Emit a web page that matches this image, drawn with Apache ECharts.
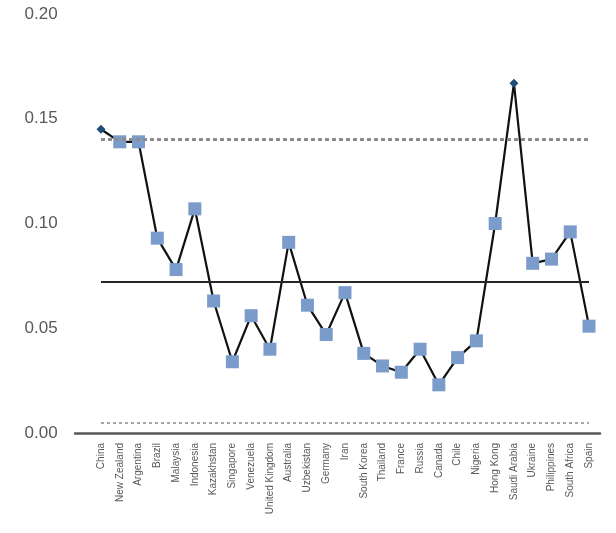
<!DOCTYPE html>
<html>
<head>
<meta charset="utf-8">
<script src="https://cdn.jsdelivr.net/npm/echarts@6/dist/echarts.min.js"></script>
<style>
html,body{margin:0;padding:0;background:#fff;}
#chart{width:616px;height:533px;}
</style>
</head>
<body>
<div id="chart"></div>
<script>
const categories = ["China","New Zealand","Argentina","Brazil","Malaysia","Indonesia","Kazakhstan","Singapore","Venezuela","United Kingdom","Australia","Uzbekistan","Germany","Iran","South Korea","Thailand","France","Russia","Canada","Chile","Nigeria","Hong Kong","Saudi Arabia","Ukraine","Philippines","South Africa","Spain"];
const values = [0.145,0.139,0.139,0.093,0.078,0.107,0.063,0.034,0.056,0.040,0.091,0.061,0.047,0.067,0.038,0.032,0.029,0.040,0.023,0.036,0.044,0.100,0.167,0.081,0.083,0.096,0.051];
const highlighted = [0, 22];
const meanValue = 0.072;
const upperLimit = 0.140;
const lowerLimit = 0.005;
const yTicks = [0, 0.05, 0.10, 0.15, 0.20];

const chart = echarts.init(document.getElementById('chart'));
const first = categories[0], last = categories[categories.length - 1];
const seriesData = values.map((v, i) => highlighted.includes(i)
  ? { value: v, symbol: 'diamond', symbolSize: 9, itemStyle: { color: '#1f4e79' } }
  : v);

chart.setOption({
  animation: false,
  grid: [
    { left: 91.6, right: 17.6, top: 14, bottom: 100 },
    { left: 75, right: 16, top: 14, bottom: 100 }
  ],
  xAxis: [
    { type: 'category', data: categories, gridIndex: 0, boundaryGap: true,
      axisLine: { show: false }, axisTick: { show: false },
      axisLabel: { rotate: 90, interval: 0, fontSize: 10, color: '#595959', margin: 10, fontFamily: 'Liberation Sans' } },
    { type: 'value', gridIndex: 1, min: 0, max: 1, position: 'bottom',
      axisLine: { show: true, onZero: false, lineStyle: { color: '#595959', width: 2.5 } },
      axisTick: { show: false }, axisLabel: { show: false }, splitLine: { show: false } }
  ],
  yAxis: [
    { type: 'value', gridIndex: 0, min: yTicks[0], max: yTicks[yTicks.length - 1], interval: 0.05,
      axisLine: { show: false }, axisTick: { show: false }, splitLine: { show: false },
      axisLabel: { formatter: v => v.toFixed(2), fontSize: 17, color: '#595959', margin: 34, fontFamily: 'Liberation Sans' } },
    { type: 'value', gridIndex: 1, min: 0, max: 1, show: false }
  ],
  series: [
    { type: 'line', xAxisIndex: 0, yAxisIndex: 0, data: seriesData,
      symbol: 'rect', symbolSize: 13, showAllSymbol: true,
      itemStyle: { color: '#7b9ccb' },
      lineStyle: { color: '#111', width: 2.2 },
      z: 3,
      markLine: {
        animation: false, silent: true, symbol: 'none', label: { show: false },
        data: [
          [{ coord: [first, meanValue], lineStyle: { color: '#262626', width: 2, type: 'solid' } }, { coord: [last, meanValue] }],
          [{ coord: [first, upperLimit], lineStyle: { color: '#8c8c8c', width: 3, type: [4, 3] } }, { coord: [last, upperLimit] }],
          [{ coord: [first, lowerLimit], lineStyle: { color: '#a6a6a6', width: 2, type: [3, 3] } }, { coord: [last, lowerLimit] }]
        ]
      }
    }
  ]
});
</script>
</body>
</html>
